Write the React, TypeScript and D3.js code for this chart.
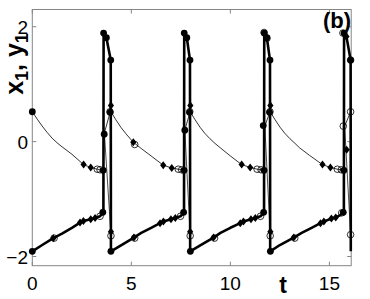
import React from 'react'
import * as d3 from 'd3'

// x1 (thick line)
const x1T = [0, 0.5, 1.06, 1.5, 2.0, 2.41, 2.58, 2.95, 3.17, 3.42, 3.55, 3.59, 3.6, 3.74, 3.96, 3.97,
  4.5, 5.13, 5.5, 6.0, 6.45, 6.62, 7.0, 7.22, 7.48, 7.63, 7.66, 7.67, 7.8, 7.96, 7.97,
  8.5, 9.15, 9.5, 10.0, 10.5, 10.66, 11.04, 11.26, 11.52, 11.67, 11.7, 11.71, 11.84, 12.0, 12.01,
  12.5, 13.2, 13.6, 14.1, 14.55, 14.72, 15.1, 15.32, 15.55, 15.7, 15.73, 15.74, 15.87, 16.07, 16.08]
const x1V = [-1.91, -1.8, -1.68, -1.6, -1.5, -1.41, -1.38, -1.35, -1.33, -1.3, -1.24, -1.18, 1.89, 1.81, 1.42, -1.91,
  -1.8, -1.67, -1.59, -1.5, -1.42, -1.39, -1.35, -1.33, -1.3, -1.24, -1.18, 1.89, 1.81, 1.42, -1.91,
  -1.8, -1.67, -1.59, -1.5, -1.42, -1.39, -1.35, -1.33, -1.3, -1.24, -1.18, 1.89, 1.81, 1.42, -1.91,
  -1.8, -1.67, -1.59, -1.5, -1.42, -1.39, -1.34, -1.32, -1.28, -1.22, -1.18, 1.89, 1.81, 1.42, -1.91]

// y1 (thin line)
const y1T = [0, 0.25, 0.5, 0.75, 1.0, 1.25, 1.5, 2.0, 2.59, 2.95, 3.28, 3.42, 3.58, 3.64, 3.92, 3.97,
  4.22, 4.47, 4.72, 4.97, 5.1, 5.5, 6.0, 6.61, 7.04, 7.37, 7.54, 7.66, 7.7, 7.95, 7.97,
  8.22, 8.47, 8.72, 8.97, 9.22, 9.5, 10.0, 10.57, 11.0, 11.35, 11.55, 11.7, 11.74, 11.98, 12.01,
  12.26, 12.51, 12.76, 13.01, 13.26, 13.5, 14.0, 14.65, 15.05, 15.4, 15.6, 15.73, 15.77, 16.05, 16.08]
const y1V = [0.52, 0.39, 0.27, 0.16, 0.06, -0.02, -0.09, -0.22, -0.4, -0.45, -0.48, -0.49, -0.5, 0.15, 0.5, 0.52,
  0.38, 0.25, 0.14, 0.04, -0.01, -0.12, -0.25, -0.41, -0.46, -0.48, -0.49, -0.5, 0.2, 0.5, 0.52,
  0.38, 0.25, 0.14, 0.05, -0.03, -0.11, -0.25, -0.4, -0.45, -0.48, -0.49, -0.5, 0.27, 0.5, 0.52,
  0.38, 0.25, 0.14, 0.05, -0.03, -0.11, -0.24, -0.4, -0.45, -0.48, -0.49, -0.5, 0.27, 0.5, 0.52]

// thin links during the fast jumps
const linkT0 = [3.63, 7.7, 11.74, 15.77]
const linkV0 = [0.2, 0.2, 0.27, 0.27]
const linkT1 = [3.97, 7.97, 12.01, 16.07]
const linkV1 = [-1.62, -1.62, -1.62, -1.62]

// markers
const filledT = [0, 0, 3.6, 3.74, 3.96, 3.58, 3.56, 3.63, 3.93, 3.97,
  7.67, 7.8, 7.96, 7.66, 7.64, 7.7, 7.94, 7.98,
  11.71, 11.84, 12.0, 11.7, 11.68, 11.66, 11.98, 12.02,
  15.74, 16.07, 15.73, 15.7]
const filledV = [0.52, -1.91, 1.89, 1.81, 1.42, -0.5, -1.23, 0.13, 0.51, -1.91,
  1.89, 1.81, 1.42, -0.5, -1.23, 0.2, 0.51, -1.91,
  1.89, 1.81, 1.42, -0.5, -1.23, 0.28, 0.51, -1.91,
  1.89, 1.42, -0.5, -1.23]

const diamondT = [1.06, 2.41, 2.58, 2.95, 3.17, 2.59, 2.95, 3.97, 3.97,
  5.13, 6.45, 6.62, 7.0, 7.22, 6.61, 7.04, 5.1, 7.97, 7.98,
  9.15, 10.5, 10.66, 11.04, 11.26, 10.57, 11.0, 12.02, 12.02,
  13.2, 14.55, 14.72, 15.1, 15.32, 14.65, 15.05, 15.86, 15.87]
const diamondV = [-1.68, -1.41, -1.38, -1.35, -1.33, -0.4, -0.45, -1.57, 0.63,
  -1.67, -1.42, -1.39, -1.35, -1.33, -0.41, -0.46, -0.01, -1.57, 0.63,
  -1.67, -1.42, -1.39, -1.35, -1.33, -0.4, -0.45, -1.57, 0.63,
  -1.67, -1.42, -1.39, -1.34, -1.32, -0.4, -0.45, 1.83, -0.14]

const openT = [1.1, 3.28, 3.42, 3.42, 3.97, 3.92,
  5.17, 5.17, 7.37, 7.54, 7.48, 7.97, 7.95,
  9.2, 11.35, 11.55, 11.52, 11.7, 12.01, 12.0, 11.85,
  13.25, 15.4, 15.6, 15.62, 15.68, 16.07, 16.07, 15.7, 16.07]
const openV = [-1.68, -0.48, -0.49, -1.3, -1.64, 0.52,
  -1.68, -0.05, -0.48, -0.49, -1.3, -1.64, 0.52,
  -1.68, -0.48, -0.49, -1.3, 1.9, -1.64, 0.52, 1.8,
  -1.68, -0.48, -0.49, -1.24, 1.89, 1.42, 0.52, 0.27, -1.62]

const xTicks = [0, 5, 10, 15]
const yTicks = [-2, 0, 2]

const W = 370
const H = 299
const left = 32.3
const right = 351.2
const top = 9.5
const bottom = 265.7
const font = '"Liberation Sans", Arial, Helvetica, sans-serif'
const frameColor = '#858585'

export default function App() {
  const x = d3.scaleLinear().domain([0, 16.1]).range([left, right])
  const y = d3.scaleLinear().domain([-2.16, 2.3]).range([bottom, top])

  const line = d3.line<number>()
    .x(i => x(i[0]))
    .y(i => y(i[1]))

  const zip = (ts: number[], vs: number[]) => ts.map((t, i) => [t, vs[i]])
  const thick = line(zip(x1T, x1V) as any)
  const thin = line(zip(y1T, y1V) as any)

  const diamond = (cx: number, cy: number) =>
    `M${cx},${cy - 4}L${cx + 3.1},${cy}L${cx},${cy + 4}L${cx - 3.1},${cy}Z`

  return (
    <svg width={W} height={H} style={{ position: 'absolute', left: 0, top: 0, background: '#fff' }}>
      {/* frame */}
      <rect x={left} y={top} width={right - left} height={bottom - top}
        fill="none" stroke={frameColor} strokeWidth={1} />
      {xTicks.map(t => (
        <g key={'xt' + t}>
          <line x1={x(t)} x2={x(t)} y1={bottom} y2={bottom - 4} stroke={frameColor} />
          <line x1={x(t)} x2={x(t)} y1={top} y2={top + 4} stroke={frameColor} />
          <text x={x(t)} y={290} textAnchor="middle" fontFamily={font} fontSize={19}>{t}</text>
        </g>
      ))}
      {yTicks.map(v => (
        <g key={'yt' + v}>
          <line x1={left} x2={left + 4} y1={y(v)} y2={y(v)} stroke={frameColor} />
          <line x1={right} x2={right - 4} y1={y(v)} y2={y(v)} stroke={frameColor} />
          <text x={28} y={y(v) + 7} textAnchor="end" fontFamily={font} fontSize={19}>
            {v < 0 ? '\u2212' + Math.abs(v) : v}
          </text>
        </g>
      ))}

      {/* series */}
      <path d={thin || ''} fill="none" stroke="#000" strokeWidth={0.8} />
      {linkT0.map((t, i) => (
        <line key={'lk' + i} x1={x(t)} y1={y(linkV0[i])} x2={x(linkT1[i])} y2={y(linkV1[i])}
          stroke="#000" strokeWidth={0.7} />
      ))}
      <path d={thick || ''} fill="none" stroke="#000" strokeWidth={2.6} strokeLinejoin="round" />

      {openT.map((t, i) => (
        <circle key={'o' + i} cx={x(t)} cy={y(openV[i])} r={3.3} fill="none" stroke="#000" strokeWidth={0.8} />
      ))}
      {diamondT.map((t, i) => (
        <path key={'d' + i} d={diamond(x(t), y(diamondV[i]))} fill="#000" />
      ))}
      {filledT.map((t, i) => (
        <circle key={'f' + i} cx={x(t)} cy={y(filledV[i])} r={3.4} fill="#000" />
      ))}

      {/* labels */}
      <text transform="translate(23,64) rotate(-90)" textAnchor="middle" fontFamily={font}
        fontSize={25} fontWeight="bold">
        x<tspan dy={5} fontSize={18}>1</tspan><tspan dy={-5}>, y</tspan><tspan dy={5} fontSize={18}>1</tspan>
      </text>
      <text x={283} y={293} textAnchor="middle" fontFamily={font} fontSize={23} fontWeight="bold">t</text>
      <text x={351} y={28} textAnchor="end" fontFamily={font} fontSize={22} fontWeight="bold">(b)</text>
    </svg>
  )
}
